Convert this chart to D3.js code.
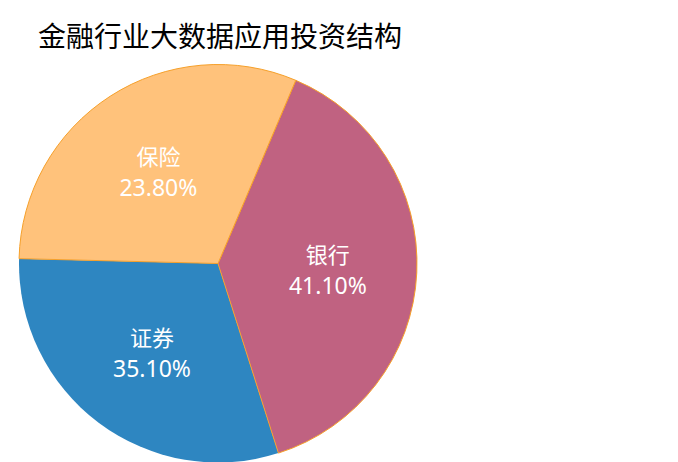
<!DOCTYPE html>
<html><head><meta charset="utf-8">
<script src="https://cdn.jsdelivr.net/npm/d3@7"></script>
<style>html,body{margin:0;padding:0;background:#fff;}</style>
</head><body>
<svg id="chart" width="678" height="462"></svg>
<script>
const title = "金融行业大数据应用投资结构";
const categories = ["银行", "证券", "保险"];
// slice sizes as drawn in the picture (degrees share)
const sliceValues = [38.7, 30.3, 31.0];
// label text as printed in the picture
const labelValues = ["41.10%", "35.10%", "23.80%"];
const colors = ["#C06281", "#2E86C1", "#FFC27B"];
const strokes = ["#F6A02A", "none", "#F6A02A"];

const svg = d3.select("#chart");
const cx = 218, cy = 263.5, R = 199;
const font = "'Noto Sans CJK SC', 'Microsoft YaHei', sans-serif";
const numFont = "'Noto Sans', 'Open Sans', sans-serif";

svg.append("text").attr("x", 38).attr("y", 47)
  .attr("font-family", font).attr("font-size", 28).attr("fill", "#000")
  .text(title);

const pie = d3.pie().sort(null).value(d => d)
  .startAngle(23 * Math.PI / 180).endAngle(383 * Math.PI / 180);
const arcs = pie(sliceValues);
const arc = d3.arc().innerRadius(0).outerRadius(R);

const g = svg.append("g").attr("transform", `translate(${cx},${cy})`);
const order = [1, 0, 2];
order.forEach(i => {
  g.append("path").attr("d", arc(arcs[i]))
    .attr("fill", colors[i])
    .attr("stroke", strokes[i]).attr("stroke-width", 1);
});

arcs.forEach((a, i) => {
  const m = (a.startAngle + a.endAngle) / 2;
  const rr = 110;
  const x = Math.sin(m) * rr, y = -Math.cos(m) * rr;
  g.append("text").attr("text-anchor", "middle")
    .attr("font-family", font).attr("font-size", 22).attr("fill", "#fff")
    .attr("x", x).attr("y", y - 6).text(categories[i]);
  g.append("text").attr("text-anchor", "middle")
    .attr("font-family", numFont).attr("font-size", 23).attr("fill", "#fff")
    .attr("x", x).attr("y", y + 25).text(labelValues[i]);
});
</script>
</body></html>
